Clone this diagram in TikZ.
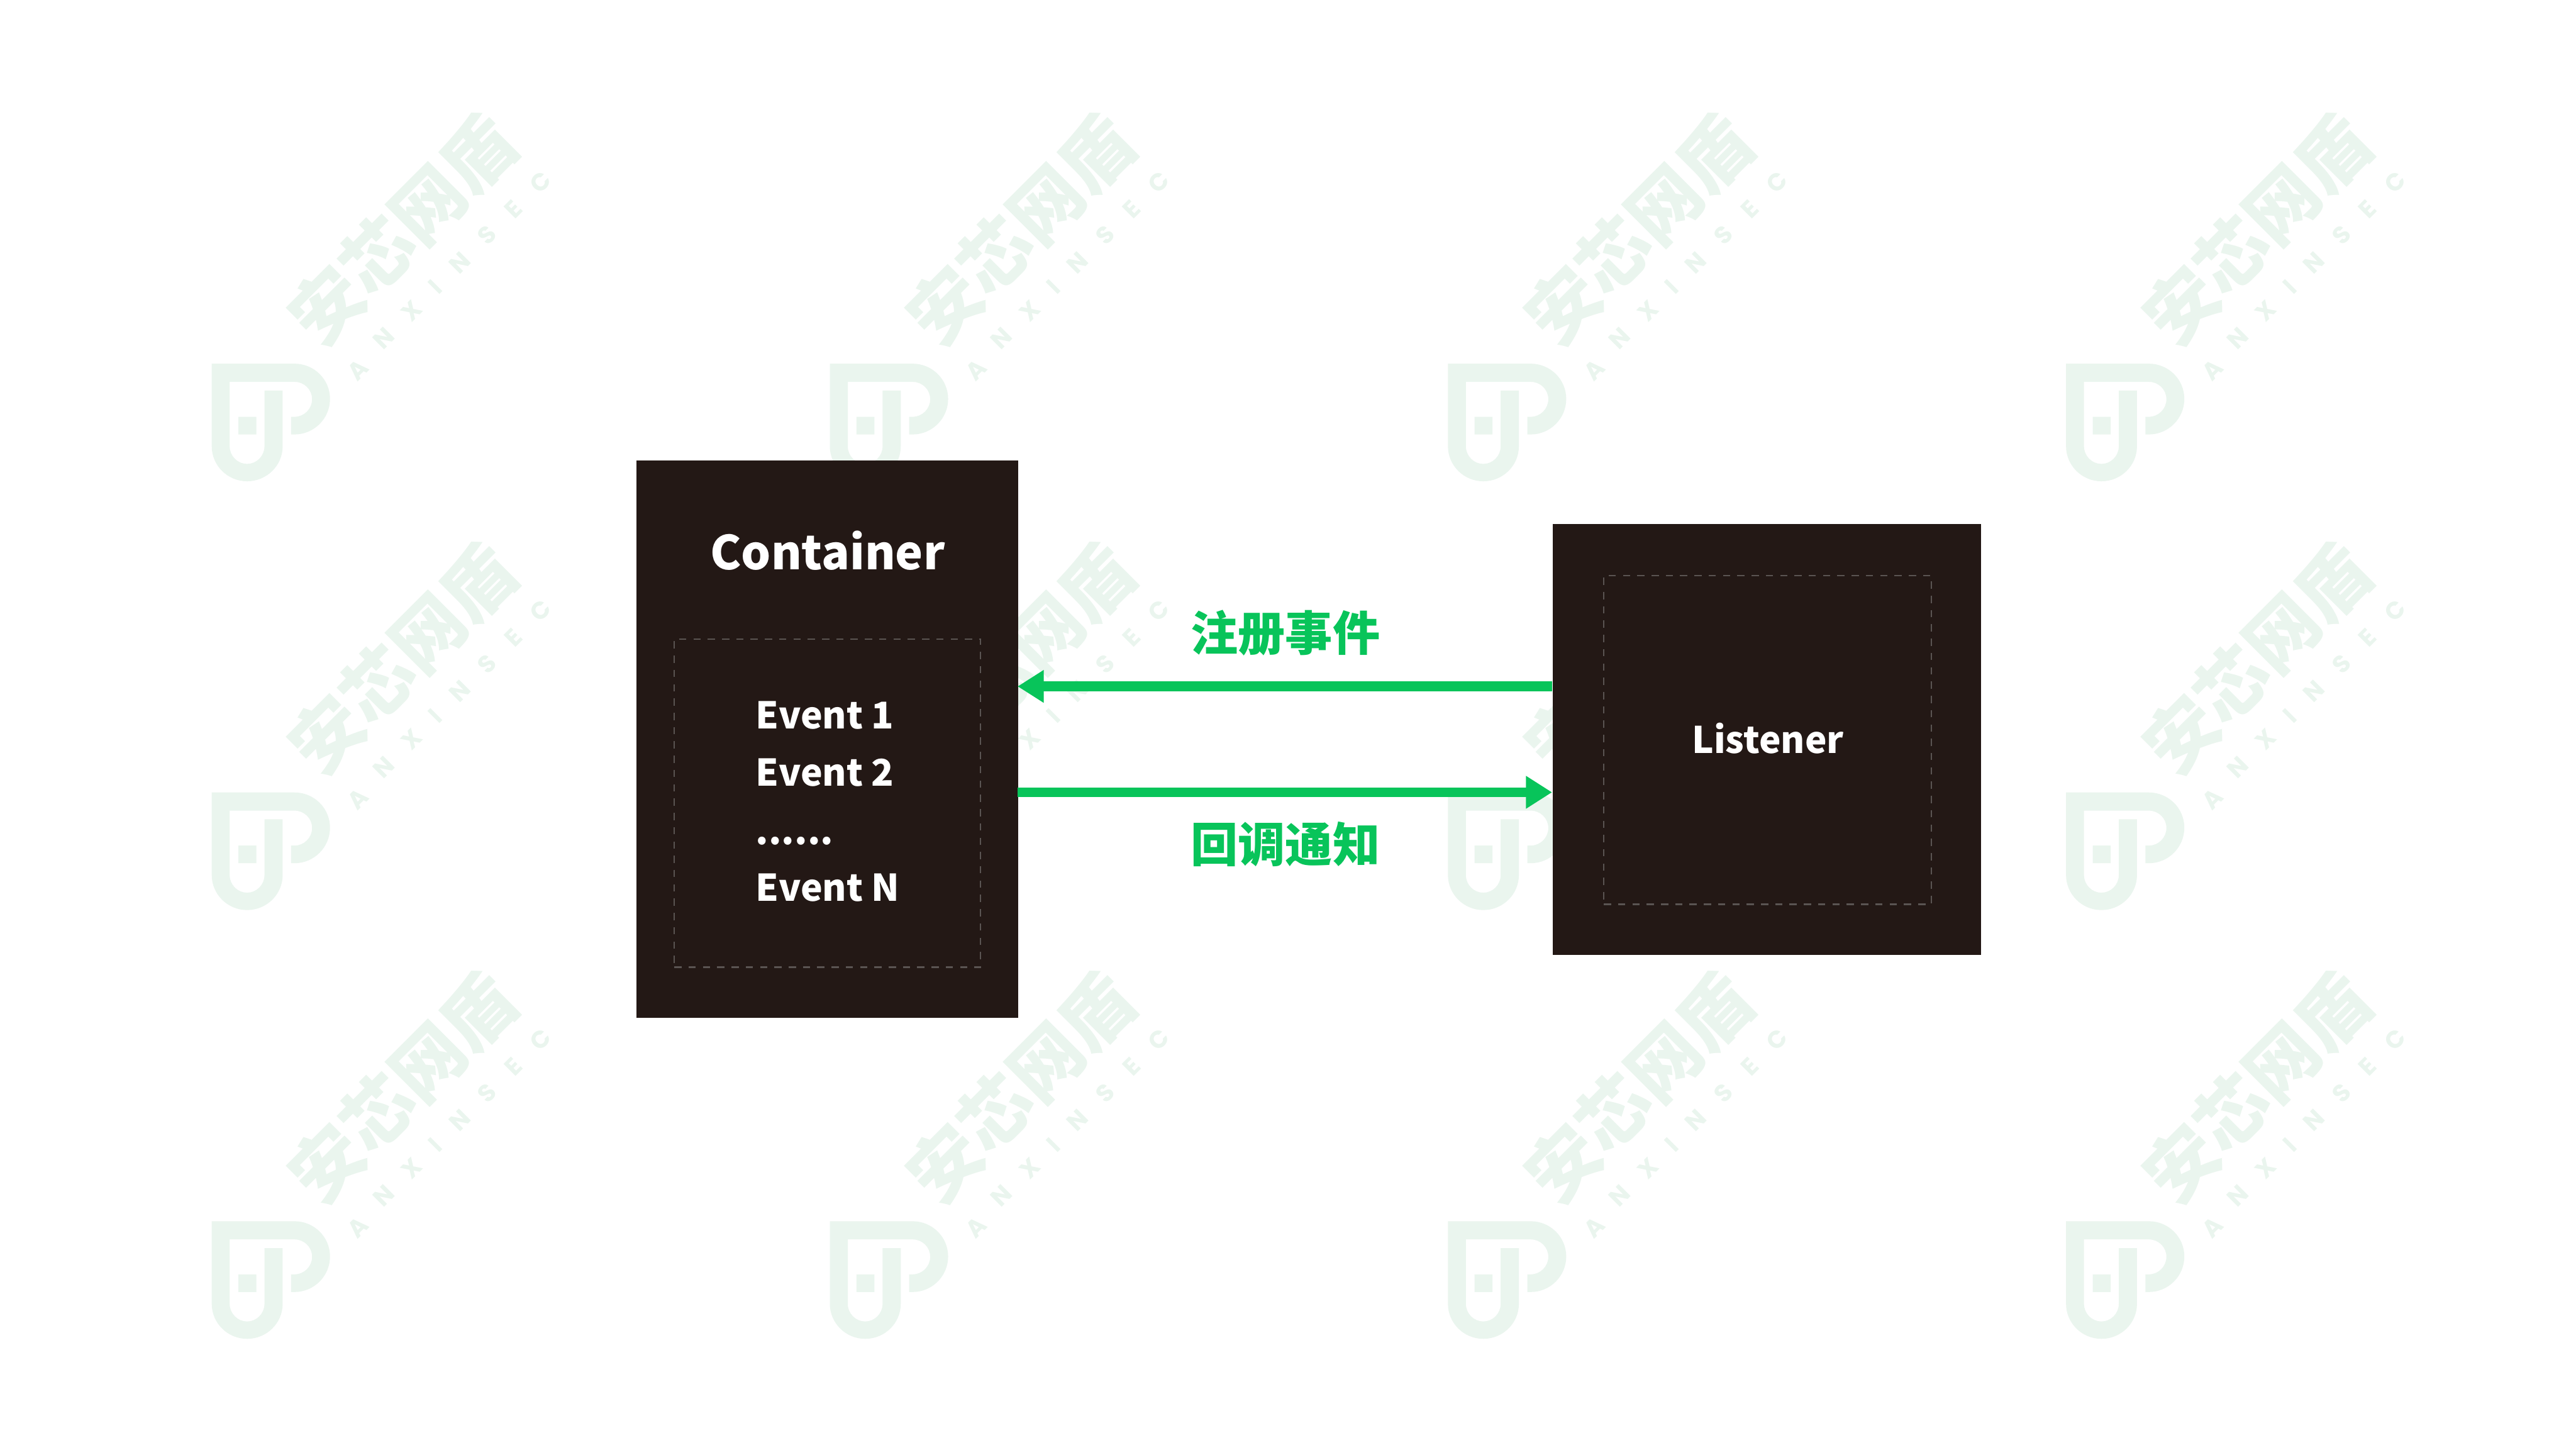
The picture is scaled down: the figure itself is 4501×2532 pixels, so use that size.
\documentclass[tikz,border=0pt]{standalone}
\usetikzlibrary{arrows.meta}
\usepackage{fontspec}
\setmainfont{Noto Sans CJK SC}
\newfontfamily\wmfont{Poppins}
\definecolor{wmgreen}{HTML}{EAF5EE}
\definecolor{boxdark}{HTML}{231815}
\definecolor{dashgrey}{HTML}{5A5452}
\definecolor{arrowgreen}{HTML}{08C45A}
\tikzset{
  wmglyph/.style={text=wmgreen,inner sep=0pt,rotate=45,font=\fontsize{35.5}{35.5}\selectfont\bfseries},
  wmletter/.style={text=wmgreen,inner sep=0pt,rotate=45,font=\wmfont\fontsize{12}{12}\selectfont\bfseries},
  darkbox/.style={fill=boxdark,draw=none,inner sep=0pt},
  dashbox/.style={draw=dashgrey,line width=0.7pt,dash pattern=on 3.6pt off 3.5pt,fill=none,inner sep=0pt},
  labelwhite/.style={text=white,inner sep=0pt},
  eventtext/.style={labelwhite,anchor=base west,font=\fontsize{18.3}{18.3}\selectfont\bfseries},
  labelgreen/.style={text=arrowgreen,inner sep=0pt,font=\fontsize{23.5}{23.5}\selectfont\bfseries},
  flow/.style={draw=arrowgreen,line width=4.8pt,-{Triangle[length=13pt,width=15.4pt]}},
  wmark/.pic={
    \begin{scope}[x=0.0044643cm,y=-0.0045914cm]
      \fill[wmgreen,even odd rule]
        (67,1056) -- (390,1056) .. controls (467,1056) and (529,1116) .. (529,1190)
        .. controls (529,1264) and (467,1325) .. (390,1325) -- (377,1325) -- (377,1258) -- (390,1258)
        .. controls (428,1258) and (459,1228) .. (459,1191) .. controls (459,1154) and (428,1125) .. (390,1125)
        -- (137,1125) -- (137,1370) .. controls (137,1407) and (168,1437) .. (205,1437)
        .. controls (242,1437) and (273,1407) .. (273,1370) -- (273,1158) -- (344,1158) -- (344,1370)
        .. controls (344,1443) and (282,1503) .. (205,1503) .. controls (129,1503) and (67,1443) .. (67,1370)
        -- cycle
        (171,1258) rectangle (241,1325);
      \node[wmglyph] (g) at (812,546) {安芯网盾};
      \node[wmletter] (l1) at (638,1080) {A};
      \node[wmletter] (l2) at (738,960) {N};
      \node[wmletter] (l3) at (848,855) {X};
      \node[wmletter] (l4) at (940,765) {I};
      \node[wmletter] (l5) at (1035,672) {N};
      \node[wmletter] (l6) at (1143,568) {S};
      \node[wmletter] (l7) at (1245,468) {E};
      \node[wmletter] (l8) at (1352,365) {C};
    \end{scope}
  }
}
\begin{document}
\begin{tikzpicture}[x=0.01cm,y=-0.01cm]
  \useasboundingbox (0,0) rectangle (4501,2532);
  \fill[white] (0,0) rectangle (4501,2532);
  \foreach \c in {0,1,2,3} \foreach \r in {0,1,2} {
    \pic (w\c\r) at ({340+1080*\c},{150+749*\r}) {wmark};
  }
  \node[darkbox,anchor=north west,minimum width=6.67cm,minimum height=9.73cm] (container) at (1111,804) {};
  \node[dashbox,anchor=north west,minimum width=5.35cm,minimum height=5.73cm] (events) at (1177,1115) {};
  \node[darkbox,anchor=north west,minimum width=7.48cm,minimum height=7.52cm] (listener) at (2712,915) {};
  \node[dashbox,anchor=north west,minimum width=5.72cm,minimum height=5.74cm] (listenerin) at (2801,1004) {};
  \node[labelwhite,anchor=base,font=\fontsize{23.2}{23.2}\selectfont\bfseries] (title) at (1446,995) {Container};
  \node[eventtext] (e1) at (1320,1273) {Event 1};
  \node[eventtext] (e2) at (1320,1373) {Event 2};
  \node[eventtext] (e3) at (1320,1475) {......};
  \node[eventtext] (e4) at (1320,1574) {Event N};
  \node[labelwhite,anchor=base,font=\fontsize{18.2}{18.2}\selectfont\bfseries] (ltext) at (3089,1316) {Listener};
  \node[labelgreen] (reg) at (2246,1106) {注册事件};
  \node[labelgreen] (cb) at (2246,1475) {回调通知};
  \coordinate (lup) at (2712,1199);
  \coordinate (cup) at (1778,1199);
  \coordinate (clow) at (1778,1384);
  \coordinate (llow) at (2712,1384);
  \draw[flow] (lup) -- (cup);
  \draw[flow] (clow) -- (llow);
\end{tikzpicture}
\end{document}
